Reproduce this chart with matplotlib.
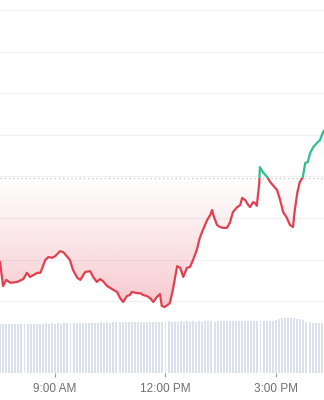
import matplotlib
matplotlib.use("Agg")
import matplotlib.pyplot as plt
import matplotlib.patches as patch
from matplotlib.path import Path
import numpy as np

#----------data-----------------------------------------------------
# price samples (time of day, price)
times = ["7:30", "7:35", "7:40", "7:47", "7:58", "8:08", "8:14", "8:19", "8:31", "8:36",
         "8:44", "8:49", "8:55", "9:00", "9:08", "9:13", "9:20", "9:24", "9:29", "9:36",
         "9:41", "9:49", "9:57", "10:02", "10:08", "10:13", "10:18", "10:25", "10:35", "10:41",
         "10:46", "10:51", "10:57", "11:02", "11:05", "11:14", "11:19", "11:23", "11:30", "11:35",
         "11:40", "11:46", "11:51", "11:54", "11:59", "12:07", "12:12", "12:19", "12:24", "12:29",
         "12:35", "12:40", "12:45", "12:51", "12:56", "13:01", "13:08", "13:13", "13:16", "13:18",
         "13:24", "13:29", "13:34", "13:40", "13:45", "13:50", "13:57", "14:02", "14:05", "14:10",
         "14:15", "14:18", "14:23", "14:26", "14:29", "14:33", "14:34", "14:39", "14:46", "14:51",
         "14:55", "15:02", "15:07", "15:12", "15:18", "15:23", "15:28", "15:31", "15:35", "15:39",
         "15:44", "15:48", "15:52", "15:56", "16:01", "16:07", "16:12", "16:17", "16:22"]
prices = [69.4, 63.6, 65.1, 64.4, 64.6, 65.3, 66.8, 65.8, 66.8, 66.8,
          69.9, 70.6, 70.4, 70.8, 72.0, 71.8, 70.6, 69.9, 67.5, 65.6,
          65.1, 67.0, 67.2, 65.8, 64.6, 65.3, 64.8, 63.6, 62.7, 62.2,
          60.7, 59.8, 61.2, 61.5, 62.2, 61.9, 61.9, 61.5, 61.2, 60.7,
          59.8, 61.0, 61.7, 58.8, 58.6, 59.5, 62.7, 68.4, 68.0, 65.8,
          68.0, 68.2, 69.9, 72.3, 75.2, 77.1, 79.5, 80.7, 81.9, 80.7,
          78.3, 77.8, 77.6, 77.6, 78.8, 81.4, 82.6, 83.1, 84.8, 84.3,
          83.1, 82.6, 83.8, 83.6, 82.9, 88.4, 92.2, 91.0, 89.8, 88.6,
          87.9, 86.7, 84.3, 81.4, 80.0, 78.3, 77.8, 81.9, 86.0, 88.6,
          89.8, 93.2, 93.4, 95.6, 97.0, 98.0, 98.7, 100.6, 101.6]
baseline = 89.5   # opening price (dotted line)

# 5 minute volume bars from 7:30 to 16:20
vol_start = "7:30"
volumes = [51.5, 51.8, 51.2, 51.6, 51.9, 51.4, 51.7, 51.3, 51.8, 51.6, 51.9, 52.0,
           51.7, 52.1, 51.8, 52.3, 52.0, 52.2, 51.9, 52.4, 52.1, 52.5, 52.2, 52.6,
           52.3, 52.7, 52.5, 52.8, 52.6, 53.0, 52.7, 53.1, 52.9, 53.2, 53.0, 53.3,
           53.1, 53.4, 53.2, 53.5, 53.3, 53.6, 53.4, 53.7, 53.5, 53.8, 53.6, 53.9,
           53.7, 54.0, 53.8, 54.1, 53.9, 54.2, 54.0, 54.3, 54.1, 54.2, 54.0, 54.3,
           54.1, 54.4, 54.2, 54.3, 54.1, 54.4, 54.2, 54.5, 54.3, 54.4, 54.2, 54.5,
           54.3, 54.6, 54.4, 54.5, 54.3, 54.6, 54.4, 54.7, 54.5, 54.6, 54.4, 54.7,
           54.5, 54.8, 54.6, 54.9, 54.7, 55.0, 55.8, 56.8, 57.6, 58.0, 57.8, 58.2,
           57.9, 57.3, 56.4, 55.3, 54.2, 53.4, 52.9, 52.6, 52.5, 52.7, 52.6]

tick_hours = [9, 12, 15]
tick_labels = ["9:00 AM", "12:00 PM", "3:00 PM"]
grid_levels = [60, 70, 80, 90, 100, 110, 120, 130]

RED = '#e0404f'
GREEN = '#2fbf8a'


def toHours(t):
    '''"H:MM" -> float hours'''
    h, m = t.split(':')
    return int(h) + int(m) / 60.0


x = np.array([toHours(t) for t in times])
y = np.array(prices)
vx = toHours(vol_start) + np.arange(len(volumes)) * 5 / 60.0

xmin, xmax = 7.5, 16.31
ymin, ymax = 56.42, 132.38

#----------figure--------------------------------------------------
fig = plt.figure(figsize=(3.24, 4.0), dpi=100)
fig.set_facecolor('white')

ax = fig.add_axes([0, 84 / 400, 1, 316 / 400])
ax.set_xlim(xmin, xmax)
ax.set_ylim(ymin, ymax)
ax.axis('off')

for g in grid_levels:
    ax.axhline(g, color='#f1f1f1', lw=0.8, zorder=0)
ax.axhline(baseline, color='#c9c9c9', lw=1.0, ls=(0, (1, 2)), zorder=1)

# gradient fills clipped to area between line and baseline
area = ax.fill_between(x, y, baseline, color='none', lw=0)
clipPath = Path.make_compound_path(*area.get_paths())

# red: faint at the baseline, stronger toward the bottom
redGrad = np.zeros((256, 1, 4))
redGrad[:, 0, :3] = matplotlib.colors.to_rgb(RED)
redGrad[:, 0, 3] = np.linspace(0.30, 0.0, 256)  # row 0 = ymin (origin lower)
imR = ax.imshow(redGrad, extent=[xmin, xmax, ymin, baseline], aspect='auto',
                origin='lower', zorder=2)
imR.set_clip_path(clipPath, ax.transData)

# green: faint at baseline, a bit stronger at the top
greenGrad = np.zeros((256, 1, 4))
greenGrad[:, 0, :3] = matplotlib.colors.to_rgb(GREEN)
greenGrad[:, 0, 3] = np.linspace(0.0, 0.12, 256)
imG = ax.imshow(greenGrad, extent=[xmin, xmax, baseline, ymax], aspect='auto',
                origin='lower', zorder=2)
imG.set_clip_path(clipPath, ax.transData)
ax.set_xlim(xmin, xmax)
ax.set_ylim(ymin, ymax)

# line: red below the baseline, green above
lineR, = ax.plot(x, y, color=RED, lw=1.6, zorder=3, solid_joinstyle='round')
lineG, = ax.plot(x, y, color=GREEN, lw=1.6, zorder=3, solid_joinstyle='round')
below = patch.Rectangle((xmin - 1, ymin - 10), xmax - xmin + 2, baseline - ymin + 10,
                        transform=ax.transData, visible=False)
above = patch.Rectangle((xmin - 1, baseline), xmax - xmin + 2, ymax - baseline + 10,
                        transform=ax.transData, visible=False)
ax.add_patch(below)
ax.add_patch(above)
lineR.set_clip_path(below)
lineG.set_clip_path(above)

#----------volume--------------------------------------------------
vax = fig.add_axes([0, 27 / 400, 1, 57 / 400])
vax.bar(vx, volumes, width=3.2 / 60, color='#dbe0ea', lw=0)
vax.set_xlim(xmin, xmax)
vax.set_ylim(0, 60)
for s in vax.spines.values():
    s.set_visible(False)
vax.set_yticks([])
vax.set_xticks(tick_hours)
vax.set_xticklabels(tick_labels, fontsize=8.5, color='#6f6f6f', family='Liberation Sans')
vax.tick_params(axis='x', length=3, width=0.8, color='#9a9a9a', pad=4.5)
vax.patch.set_alpha(0)

fig.savefig('out.png', dpi=100, facecolor='white')
